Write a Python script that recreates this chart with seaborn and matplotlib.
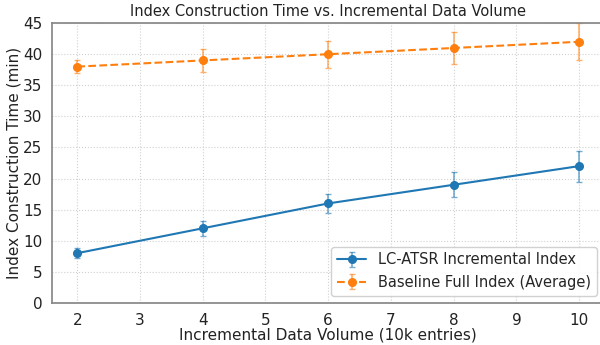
import numpy as np
import pandas as pd
import seaborn as sns
import matplotlib.pyplot as plt

# dados
volume = [2, 4, 6, 8, 10]
lc_atsr_time = [8, 12, 16, 19, 22]
lc_atsr_err = [0.8, 1.2, 1.5, 2.0, 2.5]
baseline_time = [38, 39, 40, 41, 42]
baseline_err = [1.0, 1.8, 2.2, 2.5, 3.0]

df = pd.DataFrame({
    "volume": volume,
    "lc": lc_atsr_time,
    "lc_err": lc_atsr_err,
    "base": baseline_time,
    "base_err": baseline_err,
})

sns.set_theme(style="white")
plt.rcParams["font.family"] = ["DejaVu Sans"]
colors = sns.color_palette("tab10")

fig, ax = plt.subplots(figsize=(6, 3.45), dpi=100)
fig.subplots_adjust(left=0.087, right=1.007, top=0.933, bottom=0.122)

ax.errorbar(df["volume"], df["lc"], yerr=df["lc_err"], fmt="-o", color=colors[0],
            markersize=5.5, linewidth=1.5, capsize=2, elinewidth=1.2,
            ecolor=(*colors[0], 0.6), label="LC-ATSR Incremental Index")
ax.errorbar(df["volume"], df["base"], yerr=df["base_err"], fmt="--o", color=colors[1],
            markersize=5.5, linewidth=1.5, capsize=2, elinewidth=1.2,
            ecolor=(*colors[1], 0.6), label="Baseline Full Index (Average)")

ax.set_ylim(0, 45)
ax.set_yticks(range(0, 46, 5))
ax.set_xticks(range(2, 11))
ax.grid(True, linestyle=":", color="#d0d0d0", linewidth=0.8)

for s in ax.spines.values():
    s.set_color("#888888")
ax.tick_params(axis="both", direction="out", length=4, width=1, color="#888888",
               labelsize=11, labelcolor="#222222", pad=3)

ax.set_title("Index Construction Time vs. Incremental Data Volume", fontsize=10.5,
             color="#222222", pad=5)
ax.set_xlabel("Incremental Data Volume (10k entries)", fontsize=11, color="#222222", labelpad=0)
ax.set_ylabel("Index Construction Time (min)", fontsize=11, color="#222222", labelpad=1)
ax.legend(loc="lower right", fontsize=10.5, frameon=True, framealpha=0.9,
          borderaxespad=0.5)

fig.savefig("out.png", dpi=100)
